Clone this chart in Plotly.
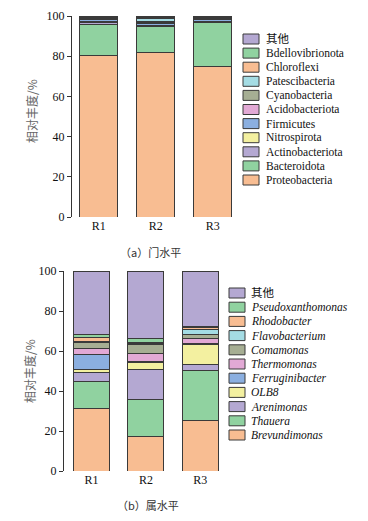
import plotly.graph_objects as go

W, H = 368, 521

samples = ["R1", "R2", "R3"]

# Phylum level (bottom -> top)
phylum_names = ["Proteobacteria", "Bacteroidota", "Actinobacteriota", "Nitrospirota",
                "Firmicutes", "Acidobacteriota", "Cyanobacteria", "Patescibacteria",
                "Chloroflexi", "Bdellovibrionota", "其他"]
phylum_R1 = [80.5, 15.5, 0.8, 0.3, 1.0, 0.3, 0.5, 0.4, 0.2, 0.2, 0.3]
phylum_R2 = [81.6, 13.1, 0.5, 0.3, 1.0, 0.3, 0.5, 1.5, 0.3, 0.3, 0.6]
phylum_R3 = [75.1, 21.6, 0.5, 0.2, 0.8, 0.3, 0.4, 0.3, 0.2, 0.2, 0.4]

# Genus level (bottom -> top)
genus_names = ["Brevundimonas", "Thauera", "Arenimonas", "OLB8", "Ferruginibacter",
               "Thermomonas", "Comamonas", "Flavobacterium", "Rhodobacter",
               "Pseudoxanthomonas", "其他"]
genus_R1 = [31.1, 13.7, 4.5, 1.5, 7.6, 3.0, 3.0, 0.3, 2.0, 1.7, 31.6]
genus_R2 = [17.5, 18.3, 15.0, 3.3, 0.7, 4.0, 4.3, 0.5, 0.9, 2.0, 33.5]
genus_R3 = [25.5, 24.8, 3.0, 10.1, 0.3, 2.5, 2.0, 2.5, 1.2, 0.6, 27.5]

colors = ["#F8BD92", "#90D2A0", "#B4A8D2", "#F3F0A0", "#8BAFE0", "#E2A9D5",
          "#A6AE93", "#A4DCE4", "#F8BD92", "#90D2A0", "#B4A8D2"]

y_ticks = [0, 20, 40, 60, 80, 100]

SERIF = '"Liberation Serif", "Noto Sans CJK SC", serif'
CJK = '"Noto Sans CJK SC", sans-serif'
EDGE = "#3a3a3a"

fig = go.Figure()

def add_stack(names, r1, r2, r3, xa, ya):
    for i, n in enumerate(names):
        fig.add_trace(go.Bar(
            x=samples, y=[r1[i], r2[i], r3[i]], name=n,
            marker=dict(color=colors[i], line=dict(color=EDGE, width=1)),
            xaxis=xa, yaxis=ya, showlegend=False, hoverinfo="name+y"))

add_stack(phylum_names, phylum_R1, phylum_R2, phylum_R3, "x", "y")
add_stack(genus_names, genus_R1, genus_R2, genus_R3, "x2", "y2")

def px(x):
    return x / W

def py(y):
    return (H - y) / H

axis_common = dict(showgrid=False, zeroline=False, automargin=False)

fig.update_layout(
    width=W, height=H, barmode="stack", bargap=0.34, autosize=False,
    margin=dict(l=0, r=0, t=0, b=0, pad=0),
    paper_bgcolor="white", plot_bgcolor="white",
    font=dict(family=SERIF, size=12, color="#111"),
    xaxis=dict(domain=[px(72), px(243)], range=[-0.47, 2.53], showline=False,
               ticks="", tickfont=dict(size=12, family=SERIF), anchor="y", **axis_common),
    yaxis=dict(domain=[py(217), py(16)], range=[0, 100], tickvals=y_ticks,
               showline=True, linecolor="#333", linewidth=1, ticks="outside",
               ticklen=4, tickcolor="#333", tickfont=dict(size=12, family=SERIF),
               anchor="x", **axis_common),
    xaxis2=dict(domain=[px(64), px(227)], range=[-0.507, 2.493], showline=False,
                ticks="", tickfont=dict(size=12, family=SERIF), anchor="y2", **axis_common),
    yaxis2=dict(domain=[py(471), py(271)], range=[0, 100], tickvals=y_ticks,
                showline=True, linecolor="#333", linewidth=1, ticks="outside",
                ticklen=4, tickcolor="#333", tickfont=dict(size=12, family=SERIF),
                anchor="x2", **axis_common),
)

annotations = []
shapes = []

def legend(names, x_sw, x_txt, y_first, step, italic):
    for k, idx in enumerate(reversed(range(len(names)))):
        yc = y_first + k * step
        shapes.append(dict(type="rect", xref="paper", yref="paper",
                           x0=px(x_sw), x1=px(x_sw + 16), y0=py(yc + 5), y1=py(yc - 5),
                           fillcolor=colors[idx], line=dict(color=EDGE, width=1)))
        n = names[idx]
        txt = n if (not italic or n == "其他") else "<i>%s</i>" % n
        annotations.append(dict(text=txt, xref="paper", yref="paper",
                                x=px(x_txt), y=py(yc), xanchor="left", yanchor="middle",
                                showarrow=False, font=dict(size=11.5, family=SERIF, color="#111")))

legend(phylum_names, 243, 264, 39, 14.1, False)
legend(genus_names, 229, 249, 293, 14.2, True)

# y-axis titles
for yc, xc in [(111, 31), (371, 29)]:
    annotations.append(dict(text="相对丰度/%", xref="paper", yref="paper",
                            x=px(xc), y=py(yc), textangle=-90, showarrow=False,
                            xanchor="center", yanchor="middle",
                            font=dict(size=12, family=CJK, color="#666")))

# captions
annotations.append(dict(text="（a）门水平", xref="paper", yref="paper", x=px(150), y=py(252),
                        showarrow=False, xanchor="center", yanchor="middle",
                        font=dict(size=11, family=CJK, color="#333")))
annotations.append(dict(text="（b）属水平", xref="paper", yref="paper", x=px(148), y=py(505),
                        showarrow=False, xanchor="center", yanchor="middle",
                        font=dict(size=11, family=CJK, color="#333")))

fig.update_layout(annotations=annotations, shapes=shapes)

fig.write_html("out.html", config={"displayModeBar": False},
               post_script="document.body.style.margin='0px';document.body.style.overflow='hidden';")
